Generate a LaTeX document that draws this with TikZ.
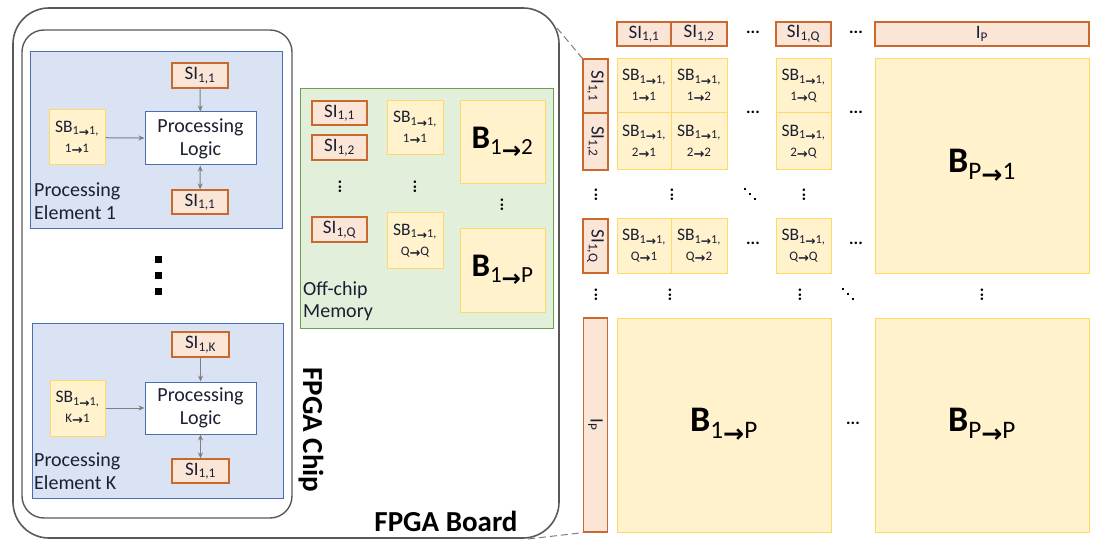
\documentclass[tikz,border=0pt]{standalone}
\usepackage{fontspec}
\setmainfont{Carlito}
\newfontfamily\arrowfont{DejaVu Sans}
\usetikzlibrary{arrows.meta}
\definecolor{peblue}{HTML}{DAE3F3}
\definecolor{peborder}{HTML}{4A6EB0}
\definecolor{sifill}{HTML}{FBE5D6}
\definecolor{siborder}{HTML}{C9692E}
\definecolor{sbfill}{HTML}{FFF2CC}
\definecolor{sbborder}{HTML}{FFD966}
\definecolor{memfill}{HTML}{E2EFDA}
\definecolor{memborder}{HTML}{6E9E4E}
\definecolor{linegray}{HTML}{7F7F7F}
\definecolor{txt}{HTML}{1A1F33}
\newcommand\arr{\raisebox{-0.3ex}{\arrowfont\bfseries →}}
\newcommand\silab[1]{SI\textsubscript{#1}}
\newcommand\sblab[2]{SB\textsubscript{1\arr1,}\\[-1pt]{\fontsize{13}{13}\selectfont #1\arr#2}}
\newcommand\biglab[2]{\textbf{B}\textsubscript{#1\arr#2}}
\tikzset{
  sibox/.style={draw=siborder, fill=sifill, line width=1.3pt, inner sep=0pt, text=txt, font=\fontsize{19}{19}\selectfont},
  sbbox/.style={draw=sbborder, fill=sbfill, line width=1pt, inner sep=0pt, align=center, text=txt, font=\fontsize{17.5}{21}\selectfont},
  bigb/.style={draw=sbborder, fill=sbfill, line width=1pt, inner sep=0pt, font=\fontsize{36}{36}\selectfont},
  pebox/.style={draw=peborder, fill=peblue, line width=1pt},
  logic/.style={draw=peborder, fill=white, line width=1pt, inner sep=0pt, align=center, text=txt, font=\fontsize{20}{23}\selectfont},
  lbl/.style={align=left, text=txt, inner sep=0pt, font=\fontsize{20}{22.5}\selectfont},
  conn/.style={draw=linegray, line width=1pt, -{Stealth[length=6pt,width=5pt]}},
  dconn/.style={draw=linegray, line width=1pt, {Stealth[length=6pt,width=5pt]}-{Stealth[length=6pt,width=5pt]}},
  dots/.style={inner sep=0pt, font=\fontsize{17}{17}\selectfont\bfseries},
  dashlink/.style={draw=linegray, line width=1pt, dashed, dash pattern=on 7pt off 4pt},
  sq/.style={fill=black, minimum size=7pt, inner sep=0pt},
  dd/.style={fill=black, minimum size=2.6pt, inner sep=0pt},
}
\begin{document}
\begin{tikzpicture}[x=1pt,y=-1pt]
\useasboundingbox (0,0) rectangle (1095,540);
% board and chip
\draw[draw=black!65, line width=1.6pt, rounded corners=36pt] (13,8) rectangle (559,538);
\draw[draw=black!65, line width=1.4pt, rounded corners=22pt] (22,30) rectangle (292,518);
% PE 1
\draw[pebox] (30,52) rectangle (282,229);
\node[sibox, minimum width=56pt, minimum height=25pt] (si1t) at (200,75.5) {\silab{1,1}};
\node[logic, minimum width=111pt, minimum height=53pt] (pl1) at (200.5,138.5) {Processing\\Logic};
\node[sbbox, minimum width=56pt, minimum height=55pt] (sb1) at (77,137.5) {\sblab{1}{1}};
\node[sibox, minimum width=56pt, minimum height=24pt] (si1b) at (200,202) {\silab{1,1}};
\node[lbl, anchor=west] (pe1lab) at (34,201) {Processing\\Element 1};
\draw[conn] (si1t) -- (pl1);
\draw[conn] (sb1) -- (pl1);
\draw[dconn] (pl1) -- (si1b);
% dots
\node[sq] (d1) at (158,259) {};
\node[sq] (d2) at (158,275) {};
\node[sq] (d3) at (158,291) {};
% PE K
\draw[pebox] (32,323) rectangle (283,498);
\node[sibox, minimum width=57pt, minimum height=25pt] (sikt) at (200.5,344.5) {\silab{1,K}};
\node[logic, minimum width=111pt, minimum height=52pt] (plk) at (200.5,408) {Processing\\Logic};
\node[sbbox, minimum width=55pt, minimum height=56pt] (sbk) at (77.5,408) {\sblab{K}{1}};
\node[sibox, minimum width=57pt, minimum height=24pt] (sikb) at (200.5,471) {\silab{1,1}};
\node[lbl, anchor=west] (peklab) at (34,471) {Processing\\Element K};
\draw[conn] (sikt) -- (plk);
\draw[conn] (sbk) -- (plk);
\draw[dconn] (plk) -- (sikb);
% labels
\node[rotate=-90, font=\fontsize{29}{29}\selectfont\bfseries, inner sep=0pt] (chiplab) at (311,430) {FPGA Chip};
\node[font=\fontsize{29}{29}\selectfont\bfseries, inner sep=0pt] (boardlab) at (446,521) {FPGA Board};
% memory
\draw[draw=memborder, fill=memfill, line width=1pt] (300,89) rectangle (553,328);
\node[sibox, minimum width=55pt, minimum height=24pt] (m11) at (339.5,113) {\silab{1,1}};
\node[sibox, minimum width=55pt, minimum height=25pt] (m12) at (339.5,147.5) {\silab{1,2}};
\node[dots, rotate=90] (mv1) at (340,187) {...};
\node[sibox, minimum width=55pt, minimum height=25pt] (m1q) at (339.5,229.5) {\silab{1,Q}};
\node[sbbox, minimum width=56pt, minimum height=54pt] (msb1) at (415,128) {\sblab{1}{1}};
\node[dots, rotate=90] (mv2) at (415,187) {...};
\node[sbbox, minimum width=56pt, minimum height=55pt] (msbq) at (415,240.5) {\sblab{Q}{Q}};
\node[bigb, minimum width=85pt, minimum height=83pt, font=\fontsize{33}{33}\selectfont] (mb12) at (502.5,142.5) {\biglab{1}{2}};
\node[dots, rotate=90] (mv3) at (502,205) {...};
\node[bigb, minimum width=85pt, minimum height=83pt, font=\fontsize{33}{33}\selectfont] (mb1p) at (502.5,270.5) {\biglab{1}{P}};
\node[lbl, anchor=west] (memlab) at (303,301) {Off-chip\\Memory};
% matrix header row
\node[sibox, minimum width=54pt, minimum height=24pt] (t1) at (644,34) {\silab{1,1}};
\node[sibox, minimum width=56pt, minimum height=24pt] (t2) at (699,34) {\silab{1,2}};
\node[dots] (td1) at (753,32) {...};
\node[sibox, minimum width=55pt, minimum height=24pt] (tq) at (803.5,34) {\silab{1,Q}};
\node[dots] (td2) at (856,32) {...};
\node[sibox, minimum width=214pt, minimum height=24pt] (tp) at (982,34) {I\textsubscript{P}};
% left column
\node[sibox, rotate=-90, minimum width=54pt, minimum height=25pt] (l1) at (595.5,86) {\silab{1,1}};
\node[sibox, rotate=-90, minimum width=57pt, minimum height=25pt] (l2) at (595.5,141.5) {\silab{1,2}};
\node[sibox, rotate=-90, minimum width=54pt, minimum height=25pt] (lq) at (595.5,246) {\silab{1,Q}};
\node[sibox, rotate=-90, minimum width=214pt, minimum height=24pt] (lp) at (595.5,425) {I\textsubscript{P}};
% SB grid
\node[sbbox, minimum width=54pt, minimum height=54pt] (g11) at (644,86) {\sblab{1}{1}};
\node[sbbox, minimum width=56pt, minimum height=54pt] (g12) at (699,86) {\sblab{1}{2}};
\node[sbbox, minimum width=55pt, minimum height=54pt] (g1q) at (803.5,86) {\sblab{1}{Q}};
\node[sbbox, minimum width=54pt, minimum height=57pt] (g21) at (644,141.5) {\sblab{2}{1}};
\node[sbbox, minimum width=56pt, minimum height=57pt] (g22) at (699,141.5) {\sblab{2}{2}};
\node[sbbox, minimum width=55pt, minimum height=57pt] (g2q) at (803.5,141.5) {\sblab{2}{Q}};
\node[sbbox, minimum width=54pt, minimum height=54pt] (gq1) at (644,246) {\sblab{Q}{1}};
\node[sbbox, minimum width=56pt, minimum height=54pt] (gq2) at (699,246) {\sblab{Q}{2}};
\node[sbbox, minimum width=55pt, minimum height=54pt] (gqq) at (803.5,246) {\sblab{Q}{Q}};
\node[dots] (gd1) at (753,112) {...};
\node[dots] (gd2) at (753,243) {...};
\node[dots] (gd3) at (856,112) {...};
\node[dots] (gd4) at (856,243) {...};
\node[dots, rotate=90] (gv1) at (596,195) {...};
\node[dots, rotate=90] (gv2) at (672,195) {...};
\node[dd] (ga1) at (745,189) {};
\node[dd] (ga2) at (750,194) {};
\node[dd] (ga3) at (755,199) {};
\node[dots, rotate=90] (gv4) at (804,195) {...};
\node[dots, rotate=90] (hv1) at (596,295) {...};
\node[dots, rotate=90] (hv2) at (670,295) {...};
\node[dots, rotate=90] (hv3) at (800,295) {...};
\node[dd] (ha1) at (843,289) {};
\node[dd] (ha2) at (848,294) {};
\node[dd] (ha3) at (853,299) {};
\node[dots, rotate=90] (hv5) at (982,295) {...};
% big blocks
\node[bigb, minimum width=214pt, minimum height=214pt] (bp1) at (982,166) {\biglab{P}{1}};
\node[bigb, minimum width=214pt, minimum height=214pt] (b1p) at (724,425) {\biglab{1}{P}};
\node[dots] (bd) at (853,423) {...};
\node[bigb, minimum width=214pt, minimum height=214pt] (bpp) at (982,425) {\biglab{P}{P}};
% dashed links
\coordinate (bt) at (557,28);
\coordinate (bb) at (528,539);
\draw[dashlink] (bt) -- (l1.south west);
\draw[dashlink] (bb) -- (lp.south east);
\end{tikzpicture}
\end{document}
